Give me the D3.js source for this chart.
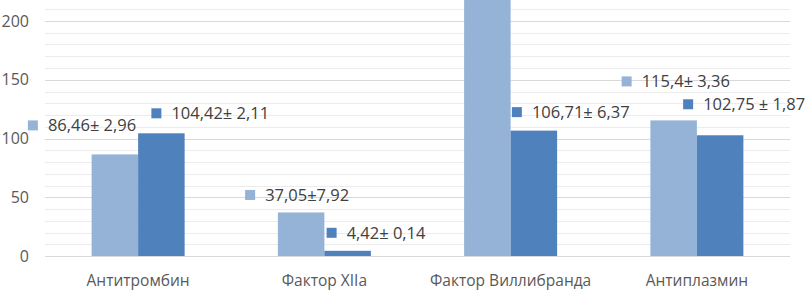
<!DOCTYPE html>
<html>
<head>
<meta charset="utf-8">
<script src="https://cdn.jsdelivr.net/npm/d3@7"></script>
<style>
  body { margin: 0; background: #fff; }
  text { font-family: "Open Sans", sans-serif; }
</style>
</head>
<body>
<div id="chart"></div>
<script>
var categories = ["Антитромбин", "Фактор XIIa", "Фактор Виллибранда", "Антиплазмин"];
var seriesA = [86.46, 37.05, 220, 115.4];
var seriesB = [104.42, 4.42, 106.71, 102.75];
var labelsA = ["86,46± 2,96", "37,05±7,92", null, "115,4± 3,36"];
var labelsB = ["104,42± 2,11", "4,42± 0,14", "106,71± 6,37", "102,75 ± 1,87"];
var yTicks = [0, 50, 100, 150, 200];

// where each data label sits relative to the top centre of its bar (px)
var offA = [[-87, -29], [-56, -17.5], [0, 0], [-52, -39]];
var offB = [[-10, -20], [-21, -18], [-22, -18.5], [-37, -31]];

var width = 805;
var height = 290;
var colorA = "#95b3d7";
var colorB = "#4f81bd";

var svg = d3
  .select("#chart")
  .append("svg")
  .attr("width", width)
  .attr("height", height);

var x = d3.scaleBand().domain(categories).range([45, 790]);
var y = d3.scaleLinear().domain([0, 220]).range([256, -2.5]);
var barW = 46.5;

// gridlines: minor every 10, major every 50
var minor = d3.range(10, 230, 10).filter(function(v) { return v % 50 !== 0; });
svg.append("g")
  .selectAll("line")
  .data(minor)
  .enter()
  .append("line")
  .attr("x1", 45)
  .attr("x2", 790)
  .attr("y1", function(d) { return Math.round(y(d)) + 0.5; })
  .attr("y2", function(d) { return Math.round(y(d)) + 0.5; })
  .attr("stroke", "#ececec");

svg.append("g")
  .selectAll("line")
  .data(yTicks)
  .enter()
  .append("line")
  .attr("x1", 45)
  .attr("x2", 790)
  .attr("y1", function(d) { return Math.round(y(d)) + 0.5; })
  .attr("y2", function(d) { return Math.round(y(d)) + 0.5; })
  .attr("stroke", "#d9d9d9");

// y tick labels
svg.append("g")
  .selectAll("text")
  .data(yTicks)
  .enter()
  .append("text")
  .attr("x", 29)
  .attr("y", function(d) { return y(d); })
  .attr("dy", "0.35em")
  .attr("text-anchor", "end")
  .attr("font-size", 16)
  .attr("fill", "#595959")
  .text(function(d) { return d; });

// bars
var groups = svg.append("g")
  .selectAll("g")
  .data(categories)
  .enter()
  .append("g");

groups.append("rect")
  .attr("x", function(d) { return x(d) + x.bandwidth() / 2 - barW; })
  .attr("y", function(d, i) { return y(seriesA[i]); })
  .attr("width", barW)
  .attr("height", function(d, i) { return y(0) - y(seriesA[i]); })
  .attr("fill", colorA);

groups.append("rect")
  .attr("x", function(d) { return x(d) + x.bandwidth() / 2; })
  .attr("y", function(d, i) { return y(seriesB[i]); })
  .attr("width", barW)
  .attr("height", function(d, i) { return y(0) - y(seriesB[i]); })
  .attr("fill", colorB);

// category labels
svg.append("g")
  .selectAll("text")
  .data(categories)
  .enter()
  .append("text")
  .attr("x", function(d) { return x(d) + x.bandwidth() / 2; })
  .attr("y", 280.5)
  .attr("dy", "0.35em")
  .attr("text-anchor", "middle")
  .attr("font-size", 15.5)
  .attr("fill", "#595959")
  .text(function(d) { return d; });

// data labels with legend key
function addLabels(values, labels, offs, color, side) {
  var g = svg.append("g")
    .selectAll("g")
    .data(categories.filter(function(d, i) { return labels[i]; }))
    .enter()
    .append("g")
    .attr("transform", function(d) {
      var i = categories.indexOf(d);
      var cx = x(d) + x.bandwidth() / 2 + side * barW / 2;
      return "translate(" + (cx + offs[i][0]) + "," + (y(values[i]) + offs[i][1]) + ")";
    });

  g.append("rect")
    .attr("x", 0)
    .attr("y", -5)
    .attr("width", 10)
    .attr("height", 10)
    .attr("fill", color);

  g.append("text")
    .attr("x", 20)
    .attr("y", 0)
    .attr("dy", "0.35em")
    .attr("font-size", 16.5)
    .attr("fill", "#404040")
    .text(function(d) { return labels[categories.indexOf(d)]; });
}

addLabels(seriesA, labelsA, offA, colorA, -1);
addLabels(seriesB, labelsB, offB, colorB, 1);
</script>
</body>
</html>
